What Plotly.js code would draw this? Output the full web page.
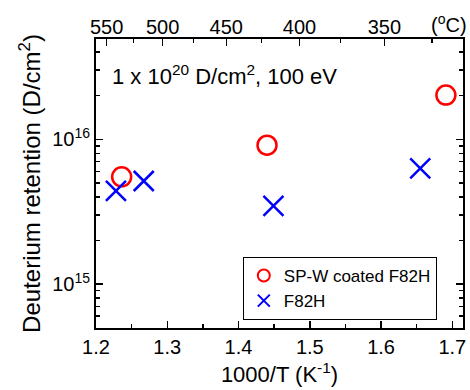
<!DOCTYPE html>
<html><head><meta charset="utf-8">
<script src="https://cdn.plot.ly/plotly-3.0.1.min.js"></script>
<style>html,body{margin:0;padding:0;background:#fff}#chart{width:470px;height:390px}</style>
</head><body><div id="chart"></div>
<script>
// Data
const coatedX = [1.236, 1.440, 1.691];
const coatedY = [5.5e15, 9.1e15, 2.02e16];
const f82hX = [1.228, 1.267, 1.449, 1.655];
const f82hY = [4.4e15, 5.15e15, 3.47e15, 6.3e15];
const celsiusMajor = [550, 500, 450, 400, 350];
const celsiusMinor = [525, 475, 425, 375, 325];
const xTicks = [1.2, 1.3, 1.4, 1.5, 1.6, 1.7];
const xMinor = [1.25, 1.35, 1.45, 1.55, 1.65];
const yTicks = [1e15, 1e16];
const yTickText = ['10<sup>15</sup>', '10<sup>16</sup>'];

const toInvK = c => 1000 / (c + 273.15);
const yMinor = [];
[1e14, 1e15, 1e16].forEach(d => { for (let k = 2; k <= 9; k++) yMinor.push(k * d); });

const font = 'Liberation Sans, Arial, sans-serif';
const xr = [1.2, 1.715];
const yr = [14.696, 16.693];

const traces = [
  {x: coatedX, y: coatedY, mode: 'markers', type: 'scatter', name: 'SP-W coated F82H',
   marker: {symbol: 'circle-open', size: 19, color: '#ff0000', line: {width: 2.5, color: '#ff0000'}}},
  {x: f82hX, y: f82hY, mode: 'markers', type: 'scatter', name: 'F82H',
   marker: {symbol: 'x-thin-open', size: 20, color: '#0000ff', line: {width: 2.5, color: '#0000ff'}}},
  {x: [], y: [], xaxis: 'x2', yaxis: 'y', showlegend: false, hoverinfo: 'skip'},
  {x: [], y: [], xaxis: 'x3', yaxis: 'y', showlegend: false, hoverinfo: 'skip'},
  {x: [], y: [], xaxis: 'x4', yaxis: 'y', showlegend: false, hoverinfo: 'skip'},
  {x: [], y: [], xaxis: 'x', yaxis: 'y2', showlegend: false, hoverinfo: 'skip'}
];

const tickBase = {ticks: 'inside', tickcolor: '#000', tickwidth: 1.5, showgrid: false, zeroline: false};
const majLen = 7, minLen = 4;

const layout = {
  width: 470, height: 390,
  margin: {l: 96, r: 7, t: 39, b: 62},
  paper_bgcolor: '#fff', plot_bgcolor: '#fff',
  font: {family: font, color: '#000', size: 20},
  showlegend: true,
  legend: {x: 0.4, y: 0.2457, xanchor: 'left', yanchor: 'top', bordercolor: '#000', borderwidth: 1,
           bgcolor: '#fff', font: {size: 17, family: font, color: '#000'}, tracegroupgap: 0, itemsizing: 'constant'},
  xaxis: Object.assign({}, tickBase, {range: xr, tickmode: 'array', tickvals: xTicks, ticktext: xTicks.map(v => v.toFixed(1)),
          ticklen: majLen, showline: true, linecolor: '#000', linewidth: 2, mirror: true,
          tickfont: {size: 20, color: '#000'},
          title: {text: '1000/T (K<sup>-1</sup>)', font: {size: 22, color: '#000'}, standoff: 10}}),
  xaxis3: Object.assign({}, tickBase, {range: xr, overlaying: 'x', side: 'bottom', anchor: 'y', tickmode: 'array',
          tickvals: xMinor, ticklen: minLen, showticklabels: false, showline: false}),
  xaxis2: Object.assign({}, tickBase, {range: xr, overlaying: 'x', side: 'top', anchor: 'y', tickmode: 'array',
          tickvals: celsiusMajor.map(toInvK), ticktext: celsiusMajor.map(String), ticklen: majLen,
          showline: false, tickfont: {size: 20, color: '#000'}}),
  xaxis4: Object.assign({}, tickBase, {range: xr, overlaying: 'x', side: 'top', anchor: 'y', tickmode: 'array',
          tickvals: celsiusMinor.map(toInvK), ticklen: minLen, showticklabels: false, showline: false}),
  yaxis: Object.assign({}, tickBase, {type: 'log', range: yr, tickmode: 'array', tickvals: yTicks, ticktext: yTickText,
          ticklen: majLen, showline: true, linecolor: '#000', linewidth: 2, mirror: 'ticks',
          tickfont: {size: 20, color: '#000'},
          title: {text: 'Deuterium retention (D/cm<sup>2</sup>)', font: {size: 24, color: '#000'}, standoff: 5}}),
  yaxis2: Object.assign({}, tickBase, {type: 'log', range: yr, overlaying: 'y', side: 'left', anchor: 'x', tickmode: 'array',
          tickvals: yMinor, ticklen: minLen, showticklabels: false, showline: true, linecolor: '#000', linewidth: 2,
          mirror: 'ticks'}),
  annotations: [
    {text: '1 x 10<sup>20</sup> D/cm<sup>2</sup>, 100 eV', xref: 'paper', yref: 'paper', x: 0.038, y: 0.875,
     xanchor: 'left', yanchor: 'middle', showarrow: false, font: {size: 22, family: font, color: '#000'}},
    {text: '(<sup>o</sup>C)', xref: 'paper', yref: 'paper', x: 0.962, y: 1.0, yshift: 16,
     xanchor: 'center', yanchor: 'middle', showarrow: false, font: {size: 20, family: font, color: '#000'}}
  ]
};

Plotly.newPlot('chart', traces, layout, {displayModeBar: false, staticPlot: true});
</script>
</body></html>
